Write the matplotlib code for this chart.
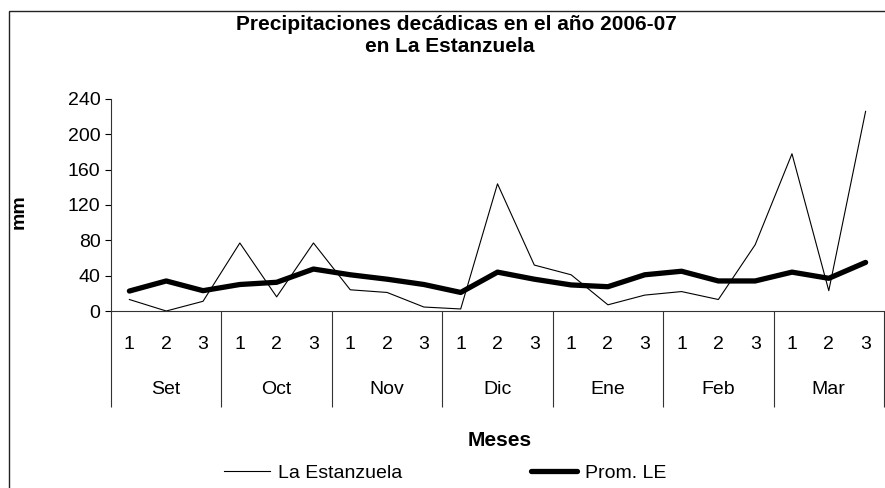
import numpy as np
import matplotlib.pyplot as plt
import matplotlib.transforms as mtransforms
from matplotlib.patches import Rectangle

plt.rcParams['font.family'] = ['Liberation Sans', 'DejaVu Sans']

meses = ['Set', 'Oct', 'Nov', 'Dic', 'Ene', 'Feb', 'Mar']
decadas = ['1', '2', '3']
la_estanzuela = [13, 0, 11, 77, 16, 77, 24, 21, 4.5, 2.3, 144, 52, 41, 7, 18,
                 22, 13, 75, 178, 23, 226]
prom_le = [22.6, 34, 23, 30, 32.5, 47.5, 41, 36, 30, 21, 44, 36, 29.5, 27.5, 41,
           45, 34, 34, 44, 37, 55]

W, H = 885, 488
fig = plt.figure(figsize=(W / 100, H / 100), dpi=100)
ax = fig.add_axes([111 / W, 1 - 311 / H, (884 - 111) / W, (311 - 99) / H])

x = np.arange(len(la_estanzuela))
ax.plot(x, la_estanzuela, color='black', lw=0.8, label='La Estanzuela')
ax.plot(x, prom_le, color='black', lw=3.8, solid_capstyle='round',
        solid_joinstyle='round', label='Prom. LE')

ax.set_xlim(-0.5, len(x) - 0.5)
ax.set_ylim(0, 240)
ax.set_yticks(np.arange(0, 241, 40))
ax.tick_params(axis='y', length=4.5, width=0.8, labelsize=14, pad=3)
for s in ['top', 'right']:
    ax.spines[s].set_visible(False)
ax.spines['left'].set_linewidth(0.8)
ax.spines['bottom'].set_linewidth(0.8)
ax.spines['left'].set_color('#333333')
ax.spines['bottom'].set_color('#333333')

# decadas
ax.set_xticks(x)
ax.set_xticklabels(decadas * len(meses))
ax.tick_params(axis='x', which='major', length=0, labelsize=14, pad=18)
# separadores de meses
ax.set_xticks(np.arange(-0.5, len(x), 3), minor=True)
ax.tick_params(axis='x', which='minor', length=69, width=0.8, color='#333333')

trans = mtransforms.blended_transform_factory(ax.transData, ax.transAxes)
for i, m in enumerate(meses):
    ax.text(3 * i + 1, -78 / 212, m, transform=trans, ha='center', va='center',
            fontsize=14)

ax.set_ylabel('mm', fontsize=14, fontweight='bold')
ax.yaxis.set_label_coords((28 - 111) / (884 - 111), (311 - 212) / 212)

fig.text(456 / W, 1 - 25 / H, 'Precipitaciones decádicas en el año 2006-07',
         ha='center', va='center', fontsize=15, fontweight='bold')
fig.text(450 / W, 1 - 47 / H, 'en La Estanzuela', ha='center', va='center',
         fontsize=15, fontweight='bold')
fig.text(500 / W, 1 - 441 / H, 'Meses', ha='center', va='center',
         fontsize=15, fontweight='bold')

fig.legend(loc='center', bbox_to_anchor=(445 / W, 1 - 473 / H), ncol=2,
           frameon=False, fontsize=14, handlelength=2.4, handletextpad=0.4,
           columnspacing=6.6, borderpad=0)

fig.patches.append(Rectangle((9 / W, -0.1), 1.2, 1 - 11 / H + 0.1,
                             transform=fig.transFigure, fill=False,
                             edgecolor='#222222', lw=1.0))

fig.savefig('out.png', dpi=100)
